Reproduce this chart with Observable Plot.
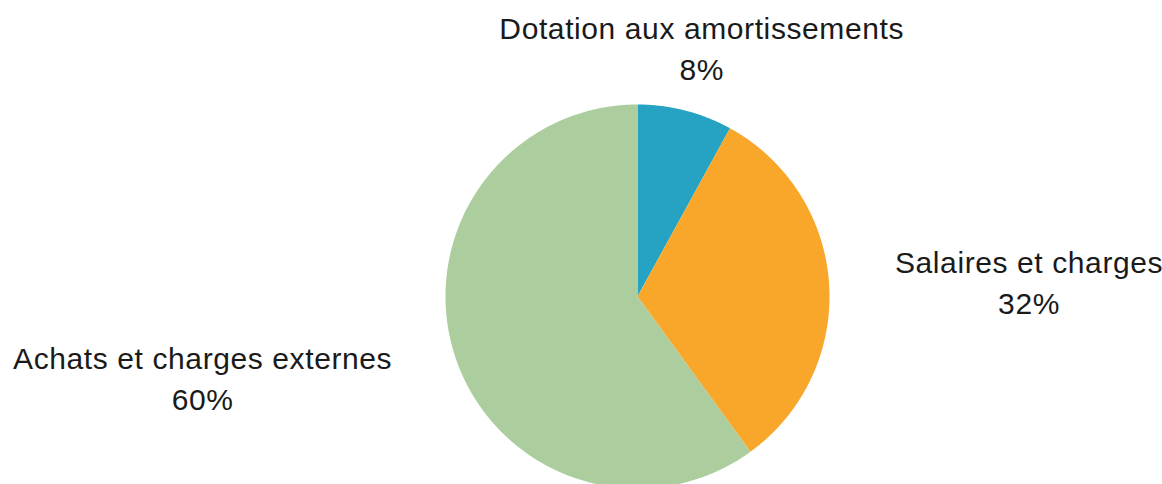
<!DOCTYPE html>
<html><head><meta charset="utf-8">
<script src="https://cdn.jsdelivr.net/npm/d3@7"></script>
<script src="https://cdn.jsdelivr.net/npm/@observablehq/plot@0.6"></script>
<style>
html,body{margin:0;padding:0;background:#fff;}
#chart svg{display:block;}
#chart svg text{letter-spacing:0.6px;}
</style>
</head><body><div id="chart"></div>
<script>
// ---- data ----
const categories = ["Dotation aux amortissements", "Salaires et charges", "Achats et charges externes"];
const values = [8, 32, 60];
const colors = ["#26a3c2", "#f9a72b", "#accd9e"];

// ---- layout ----
const W = 1162, H = 484;
const cx = 637, cy = 296, R = 192;
const labelRadius = 1.345;
const fontFamily = "'Liberation Sans', Arial, sans-serif";
const fontSize = 30;
const letterSpacing = 0.6;

const total = d3.sum(values);
let acc = 0;
const slices = categories.map((c, i) => {
  const a0 = acc / total * 2 * Math.PI;
  acc += values[i];
  const a1 = acc / total * 2 * Math.PI;
  return {category: c, value: values[i], a0, a1, mid: (a0 + a1) / 2};
});

// polygons in unit coordinates (y up), angle clockwise from top
const features = {
  type: "FeatureCollection",
  features: slices.map(s => {
    const n = Math.max(2, Math.ceil((s.a1 - s.a0) / (Math.PI / 720)));
    const ring = [[0, 0]];
    for (let k = 0; k <= n; k++) {
      const a = s.a0 + (s.a1 - s.a0) * k / n;
      ring.push([Math.sin(a), Math.cos(a)]);
    }
    ring.push([0, 0]);
    return {type: "Feature", properties: {category: s.category}, geometry: {type: "Polygon", coordinates: [ring]}};
  })
};

const ctx = document.createElement("canvas").getContext("2d");
ctx.font = `${fontSize}px ${fontFamily}`;

const labels = slices.map(s => {
  const lines = [s.category, `${s.value}%`];
  const w = d3.max(lines, l => ctx.measureText(l).width + letterSpacing * (l.length - 1));
  const side = Math.sin(s.mid);
  const dx = side > 0.5 ? w / 2 : side < -0.5 ? -w / 2 : 0;
  return {text: lines.join("\n"), x: labelRadius * Math.sin(s.mid), y: labelRadius * Math.cos(s.mid), dx};
});

const projection = d3.geoIdentity().reflectY(true).scale(R).translate([cx, cy]);

const chart = Plot.plot({
  width: W,
  height: H,
  margin: 0,
  projection,
  color: {domain: categories, range: colors},
  style: {fontFamily, background: "#fff"},
  marks: [
    Plot.geo(features, {fill: d => d.properties.category, stroke: "none"}),
    ...labels.map(l => Plot.text([l], {
      x: "x", y: "y", text: "text", dx: l.dx,
      textAnchor: "middle", lineAnchor: "middle", lineHeight: 1.37,
      fontSize, fill: "#1a1a1a"
    }))
  ]
});
document.getElementById("chart").append(chart);
</script>
</body></html>
